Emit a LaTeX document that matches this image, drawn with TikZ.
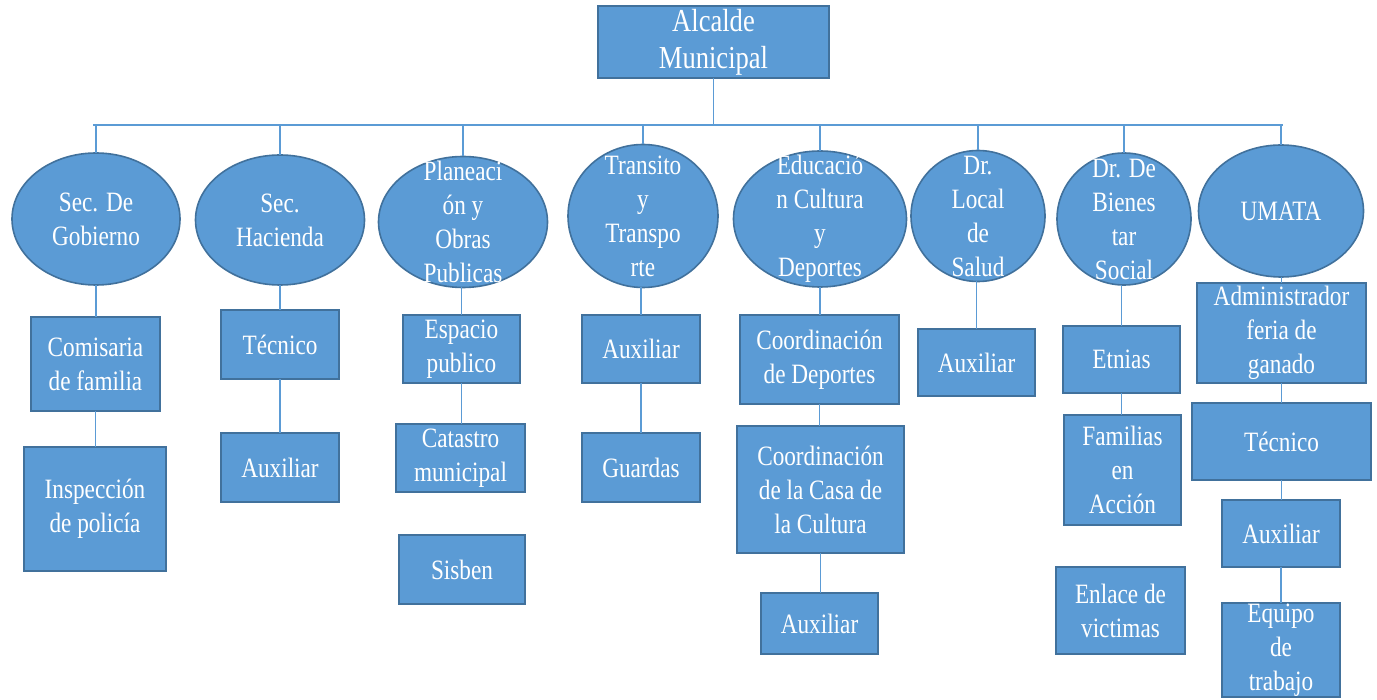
\documentclass[tikz,border=0pt]{standalone}
\usepackage{fontspec}
\setmainfont{Liberation Serif}[FakeStretch=0.83]
\usetikzlibrary{shapes.geometric}
\definecolor{fillblue}{HTML}{5B9BD5}
\definecolor{edgeblue}{HTML}{41719C}
\tikzset{
  box/.style={rectangle, draw=edgeblue, line width=1.6pt, fill=fillblue, text=white,
    align=center, inner sep=0pt, outer sep=0pt, font=\fontsize{28}{34}\selectfont},
  ell/.style={ellipse, draw=edgeblue, line width=1.6pt, fill=fillblue,
    inner sep=0pt, outer sep=0pt},
  etxt/.style={text=white, align=center, inner sep=0pt, font=\fontsize{28}{34}\selectfont},
  conn/.style={draw=fillblue, line width=1.4pt}
}
\begin{document}
\begin{tikzpicture}[x=1pt,y=-1pt]
\useasboundingbox (0,0) rectangle (1377,700);
% top
\node[box, minimum width=231, minimum height=72, font=\fontsize{32}{37}\selectfont] (alc) at (713.5,42) {Alcalde\\Municipal};
% ellipses
\node[ell, minimum width=168, minimum height=132] (e1) at (96,219) {};
\node[ell, minimum width=169, minimum height=130] (e2) at (280,220) {};
\node[ell, minimum width=169, minimum height=131] (e3) at (463,222) {};
\node[ell, minimum width=150, minimum height=143] (e4) at (643,216) {};
\node[ell, minimum width=173, minimum height=136] (e5) at (820,219) {};
\node[ell, minimum width=134, minimum height=131] (e6) at (978,216) {};
\node[ell, minimum width=134, minimum height=132] (e7) at (1124,219) {};
\node[ell, minimum width=165, minimum height=132] (e8) at (1281,211) {};
\node[etxt] (t1) at (e1.center) {Sec. De\\Gobierno};
\node[etxt] (t2) at (e2.center) {Sec.\\Hacienda};
\node[etxt] (t3) at (e3.center) {Planeaci\\ón y\\Obras\\Publicas};
\node[etxt] (t4) at (e4.center) {Transito\\y\\Transpo\\rte};
\node[etxt] (t5) at (e5.center) {Educació\\n Cultura\\y\\Deportes};
\node[etxt] (t6) at (e6.center) {Dr.\\Local\\de\\Salud};
\node[etxt] (t7) at (e7.center) {Dr. De\\Bienes\\tar\\Social};
\node[etxt] (t8) at (e8.center) {UMATA};
% boxes
\node[box, minimum width=129, minimum height=94] (com) at (95.5,364) {Comisaria\\de familia};
\node[box, minimum width=142, minimum height=124] (ins) at (95,509) {Inspección\\de policía};
\node[box, minimum width=118, minimum height=69] (tec1) at (280,344.5) {Técnico};
\node[box, minimum width=118, minimum height=69] (aux1) at (280,467.5) {Auxiliar};
\node[box, minimum width=117, minimum height=68] (esp) at (461.5,349) {Espacio\\publico};
\node[box, minimum width=129, minimum height=68] (cat) at (460.5,458) {Catastro\\municipal};
\node[box, minimum width=126, minimum height=69] (sis) at (462,569.5) {Sisben};
\node[box, minimum width=118, minimum height=68] (aux2) at (641,349) {Auxiliar};
\node[box, minimum width=118, minimum height=69] (gua) at (641,467.5) {Guardas};
\node[box, minimum width=159, minimum height=89] (cdep) at (819.5,359.5) {Coordinación\\de Deportes};
\node[box, minimum width=167, minimum height=127] (ccas) at (820.5,489.5) {Coordinación\\de la Casa de\\la Cultura};
\node[box, minimum width=117, minimum height=61] (aux3) at (819.5,623.5) {Auxiliar};
\node[box, minimum width=117, minimum height=67] (aux4) at (976.5,362.5) {Auxiliar};
\node[box, minimum width=117, minimum height=67] (etn) at (1121.5,359.5) {Etnias};
\node[box, minimum width=117, minimum height=110] (fam) at (1122.5,470) {Familias\\en\\Acción};
\node[box, minimum width=129, minimum height=87] (enl) at (1120.5,610.5) {Enlace de\\victimas};
\node[box, minimum width=169, minimum height=100] (adm) at (1281.5,333) {Administrador\\feria de\\ganado};
\node[box, minimum width=179, minimum height=77] (tec2) at (1281.5,441.5) {Técnico};
\node[box, minimum width=118, minimum height=67] (aux5) at (1281,533.5) {Auxiliar};
\node[box, minimum width=118, minimum height=94] (equ) at (1281,650) {Equipo\\de\\trabajo};
% connectors
\coordinate (bl) at (93,125);
\coordinate (br) at (1283,125);
\draw[conn] (alc.south) -- (alc.south |- bl);
\draw[conn] (bl) -- (br);
\foreach \e in {e1,e2,e3,e4,e5,e6,e7,e8}{
  \draw[conn] (\e.north |- bl) -- (\e.north);
}
\draw[conn] (e1.south) -- (e1.south |- com.north);
\draw[conn] (com.south) -- (com.south |- ins.north);
\draw[conn] (e2.south) -- (e2.south |- tec1.north);
\draw[conn] (tec1.south) -- (aux1.north);
\draw[conn] (esp.north |- e3.south) -- (esp.north);
\draw[conn] (esp.south) -- (esp.south |- cat.north);
\draw[conn] (aux2.north |- e4.south) -- (aux2.north);
\draw[conn] (aux2.south) -- (gua.north);
\draw[conn] (e5.south) -- (e5.south |- cdep.north);
\draw[conn] (cdep.south) -- (cdep.south |- ccas.north);
\draw[conn] (ccas.south) -- (ccas.south |- aux3.north);
\draw[conn] (aux4.north |- e6.south) -- (aux4.north);
\draw[conn] (etn.north |- e7.south) -- (etn.north);
\draw[conn] (etn.south) -- (etn.south |- fam.north);
\draw[conn] (adm.north |- e8.south) -- (adm.north);
\draw[conn] (adm.south) -- (adm.south |- tec2.north);
\draw[conn] (tec2.south) -- (tec2.south |- aux5.north);
\draw[conn] (aux5.south) -- (equ.north);
\end{tikzpicture}
\end{document}
